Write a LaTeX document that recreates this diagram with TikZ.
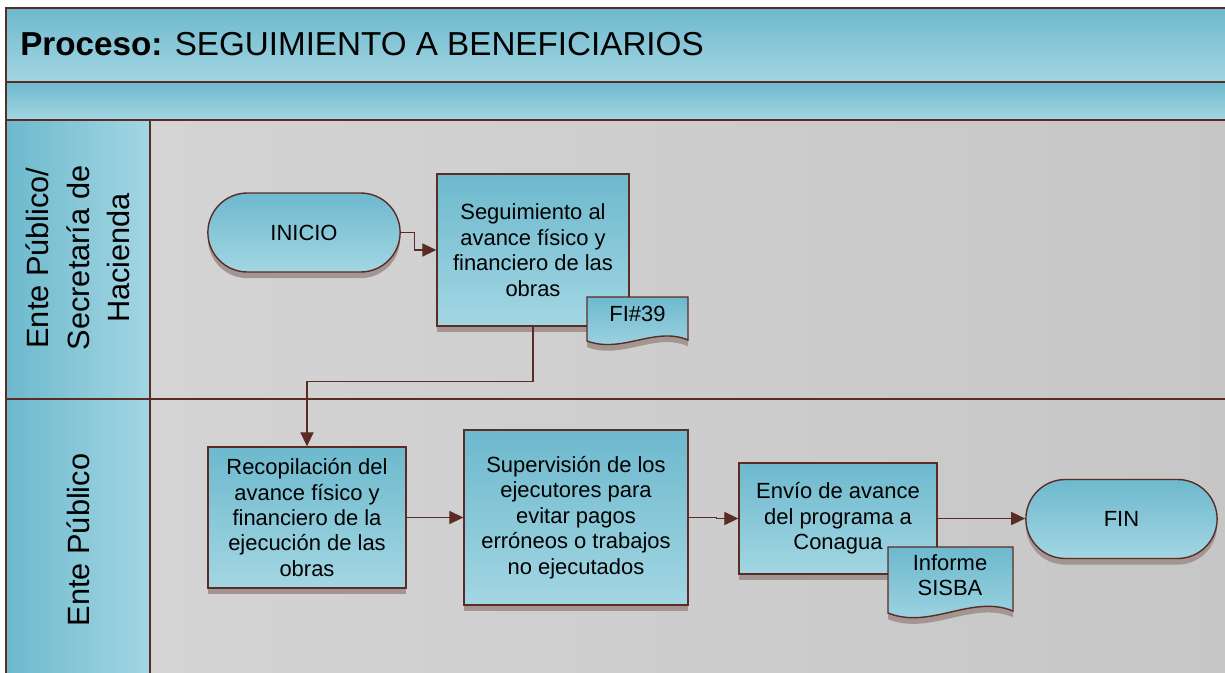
\documentclass[tikz,border=0pt]{standalone}
\usepackage{fontspec}
\setmainfont{Liberation Sans}
\usetikzlibrary{positioning, shapes.misc, shadows, arrows.meta}

\definecolor{cafeborde}{HTML}{5B2C24}
\definecolor{tealoscuro}{HTML}{6DB9CD}
\definecolor{tealclaro}{HTML}{A3D6E3}
\definecolor{grisfondo}{HTML}{D4D4D4}
\definecolor{grisfondob}{HTML}{C6C6C6}
\definecolor{sombra}{HTML}{A39592}

\begin{document}
\begin{tikzpicture}[x=0.02cm, y=-0.02cm,
    >={Triangle[length=8pt, width=7.5pt]},
    marco/.style={draw=cafeborde, line width=1pt},
    flow/.style={->, draw=cafeborde, line width=0.7pt},
    caja/.style={rectangle, draw=cafeborde, line width=0.8pt, top color=tealoscuro, bottom color=tealclaro,
        align=center, font=\fontsize{12.5}{14.5}\selectfont,
        drop shadow={shadow xshift=0pt, shadow yshift=-3.5pt, fill=sombra, opacity=1}},
    terminal/.style={caja, rounded rectangle},
    docu/.style={draw=cafeborde, line width=0.8pt, top color=tealoscuro, bottom color=tealclaro,
        drop shadow={shadow xshift=0pt, shadow yshift=-3.5pt, fill=sombra, opacity=1}},
    doctexto/.style={align=center, font=\fontsize{12.5}{14.5}\selectfont},
    carril/.style={rotate=90, align=center, font=\fontsize{17.5}{23}\selectfont}]

    \useasboundingbox (0,0) rectangle (1225,673);
    \clip (0,0) rectangle (1225,673);

    % encabezado y carriles
    \path[top color=tealoscuro, bottom color=tealclaro] (6,8) rectangle (1240,82);
    \path[top color=tealoscuro, bottom color=tealclaro] (6,82) rectangle (1240,120);
    \path[left color=tealoscuro, right color=tealclaro] (6,120) rectangle (150,690);
    \path[left color=grisfondo, right color=grisfondob] (150,120) rectangle (1240,690);
    \draw[marco] (6,690) -- (6,8) -- (1240,8);
    \draw[marco] (6,82) -- (1240,82) (6,120) -- (1240,120) (6,399) -- (1240,399) (150,120) -- (150,690);

    \node[anchor=west, inner sep=0pt, font=\fontsize{18.9}{22}\selectfont] (titulo) at (20,44.5) {\textbf{Proceso:} SEGUIMIENTO A BENEFICIARIOS};
    \node[carril] (carril1) at (78,258) {Ente Público/\\Secretaría de\\Hacienda};
    \node[carril] (carril2) at (78,540) {Ente Público};

    % actividades
    \node[terminal, minimum width=4.08cm, minimum height=1.58cm] (inicio) at (304,232.5) {INICIO};
    \node[caja, minimum width=3.84cm, minimum height=3.04cm] (seguim) at (533,250) {Seguimiento al\\avance físico y\\financiero de las\\obras};
    \node[caja, minimum width=3.96cm, minimum height=2.82cm] (recop) at (307,517.5) {Recopilación del\\avance físico y\\financiero de la\\ejecución de las\\obras};
    \node[caja, minimum width=4.48cm, minimum height=3.5cm] (superv) at (576,517.5) {Supervisión de los\\ejecutores para\\evitar pagos\\erróneos o trabajos\\no ejecutados};
    \node[caja, minimum width=3.96cm, minimum height=2.22cm] (envio) at (838,518.5) {Envío de avance\\del programa a\\Conagua};
    \node[terminal, minimum width=4.06cm, minimum height=1.58cm] (fin) at (1121.5,519) {FIN};

    % documentos
    \path[docu] (587,297) -- (688,297) -- (688,340) .. controls (655,326) and (622,354) .. (587,341) -- cycle;
    \node[doctexto] (fi39) at (637.5,314) {FI\#39};
    \path[docu] (888,547) -- (1013,547) -- (1013,611) .. controls (972,594) and (930,630) .. (888,613) -- cycle;
    \node[doctexto] (informe) at (950,575) {Informe\\SISBA};

    \draw[flow] (inicio.east) -- ++(14,0) |- (seguim.west);
    \draw[flow] (seguim.south) -- ++(0,55) -| (recop.north);
    \draw[flow] (recop) -- (superv);
    \draw[flow] (superv.east) -- ++(28,0) |- (envio.west);
    \draw[flow] (envio.east) -- (envio.east -| fin.west);
\end{tikzpicture}
\end{document}
